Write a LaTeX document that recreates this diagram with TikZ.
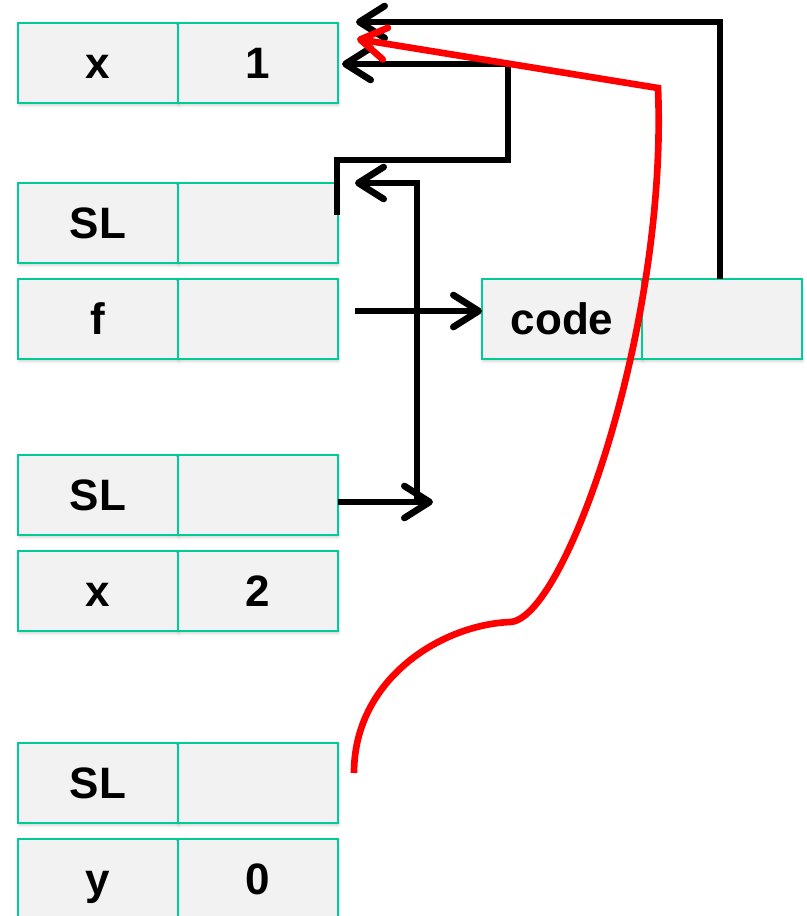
\documentclass[tikz,border=0pt]{standalone}
\usepackage{fontspec}
\setmainfont{Liberation Sans}
\usetikzlibrary{arrows.meta,calc,shadows.blur}
\definecolor{cellgreen}{RGB}{0,204,153}
\definecolor{cellfill}{RGB}{242,242,242}
\begin{document}
\begin{tikzpicture}[x=0.75pt,y=-0.75pt,
  cell/.style={draw=cellgreen, fill=cellfill, line width=1.6pt,
    minimum width=120pt, minimum height=60pt, inner sep=0pt, outer sep=0pt,
    font=\fontsize{33}{33}\selectfont\bfseries, text height=23.6pt, text depth=0pt,
    blur shadow={shadow xshift=0.6pt, shadow yshift=-1.8pt,
      shadow opacity=18, shadow blur radius=2pt}},
  link/.style={line width=5pt, black},
  redlink/.style={line width=5pt, red},
  >={Straight Barb[length=19pt,width=24pt,round]}]

\useasboundingbox (0,0) rectangle (806,916);
\clip (0,0) rectangle (806,916);

% stack frames
\node[cell] (x1k)  at (98,63)  {x};
\node[cell] (x1v)  at (258,63) {1};
\node[cell] (sl1k) at (98,223) {SL};
\node[cell] (sl1v) at (258,223) {};
\node[cell] (fk)   at (98,319) {f};
\node[cell] (fv)   at (258,319) {};
\node[cell] (sl2k) at (98,495) {SL};
\node[cell] (sl2v) at (258,495) {};
\node[cell] (x2k)  at (98,591) {x};
\node[cell] (x2v)  at (258,591) {2};
\node[cell] (sl3k) at (98,783) {SL};
\node[cell] (sl3v) at (258,783) {};
\node[cell] (yk)   at (98,879) {y};
\node[cell] (yv)   at (258,879) {0};

% closure object
\node[cell] (codek) at (562,319) {code};
\node[cell] (codev) at (722,319) {};

% free ends of the links
\coordinate (tipA) at (356,22);
\coordinate (tipB) at (342,64);
\coordinate (bendB) at (508,160);
\coordinate (startB) at (337,215);
\coordinate (tipD) at (355,183);
\coordinate (colD) at (417,502);
\coordinate (tipC) at (433,502);
\coordinate (startE) at (355,311);

% environment pointer of the closure
\draw[link,->] ([xshift=-1.5pt]codev.north) |- (tipA);
% static link of the first inner frame
\draw[link,->] (startB) |- (bendB) |- (tipB);
% static link of the second frame
\draw[link,->] ($(sl2v.east)+(0,7)$) -- (tipC);
\draw[link,->] (colD) |- (tipD);
% f points to its code
\draw[link,->] (startE) -- ($(codek.west)+(0,-8)$);

% red access path
\coordinate (r0) at (354,773);
\coordinate (r1) at (510,622);
\coordinate (r2) at (658,88);
\coordinate (rt) at (357,39);
\draw[redlink,->] (r0) .. controls (354,680) and (440,625) .. (r1)
  .. controls (565,620) and (668,325) .. (r2) -- (rt);

\end{tikzpicture}
\end{document}
